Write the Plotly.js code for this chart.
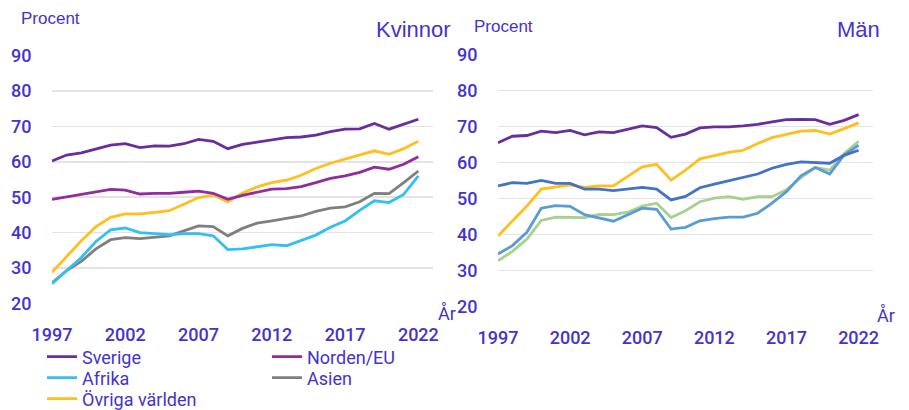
<!DOCTYPE html>
<html>
<head>
<meta charset="utf-8">
<script src="https://cdn.plot.ly/plotly-3.0.1.min.js"></script>
<style>html,body{margin:0;padding:0;background:#fff;}#chart{width:909px;height:410px;}</style>
</head>
<body>
<div id="chart"></div>
<script>
const years = [1997,1998,1999,2000,2001,2002,2003,2004,2005,2006,2007,2008,2009,2010,2011,2012,2013,2014,2015,2016,2017,2018,2019,2020,2021,2022];
const xTicks = [1997,2002,2007,2012,2017,2022];
const yTicks = [20,30,40,50,60,70,80,90];
const seriesNames = ['Sverige','Norden/EU','Afrika','Asien','Övriga världen'];

// Kvinnor
const kvSverige = [60.2,61.9,62.5,63.7,64.7,65.1,64.0,64.5,64.4,65.1,66.3,65.8,63.7,64.9,65.6,66.3,66.8,67.0,67.5,68.5,69.2,69.3,70.8,69.2,70.6,72.0];
const kvNorden  = [49.4,50.1,50.8,51.4,52.2,52.0,50.9,51.1,51.1,51.4,51.7,51.1,49.4,50.5,51.3,52.3,52.4,53.0,54.1,55.3,56.0,57.0,58.5,57.9,59.3,61.4];
const kvAfrika  = [25.6,29.3,33.0,37.5,40.8,41.3,40.0,39.7,39.4,39.7,39.7,39.1,35.2,35.4,36.1,36.6,36.3,37.7,39.3,41.5,43.3,46.3,49.0,48.5,50.8,56.0];
const kvAsien   = [25.8,29.3,31.9,35.4,38.0,38.6,38.3,38.6,39.1,40.5,41.9,41.7,39.1,41.2,42.7,43.3,44.0,44.7,46.0,46.9,47.3,48.7,51.1,51.0,54.1,57.4];
const kvOvriga  = [28.8,33.3,37.7,41.7,44.3,45.3,45.3,45.7,46.2,48.0,49.9,50.6,48.7,51.2,52.9,54.1,54.8,56.2,58.1,59.6,60.7,61.8,63.1,62.1,63.7,65.8];

// Män
const mSverige = [65.5,67.3,67.5,68.7,68.3,68.9,67.7,68.5,68.3,69.3,70.2,69.7,67.0,67.9,69.6,69.9,69.9,70.2,70.6,71.3,71.9,72.0,71.9,70.6,71.7,73.3];
const mNorden  = [53.5,54.4,54.2,55.0,54.2,54.2,52.6,52.6,52.2,52.7,53.1,52.6,49.6,50.6,53.0,54.0,54.9,55.8,56.8,58.4,59.5,60.2,60.1,59.8,62.0,63.4];
const mAfrika  = [34.6,36.9,40.6,47.3,48.0,47.8,45.5,44.5,43.7,45.5,47.3,47.0,41.5,42.0,43.8,44.4,44.8,44.8,45.9,48.7,51.9,56.3,58.6,56.8,62.1,64.8];
const mAsien   = [32.7,35.3,38.7,43.9,44.8,44.8,44.7,45.6,45.5,46.2,47.9,48.7,44.7,46.6,49.1,50.1,50.5,49.8,50.5,50.5,52.4,55.8,58.6,57.9,62.5,65.9];
const mOvriga  = [39.6,43.8,47.9,52.6,53.3,53.8,53.1,53.5,53.5,56.1,58.8,59.5,55.1,57.9,61.0,61.9,62.8,63.4,65.3,66.9,67.8,68.7,68.9,67.9,69.4,71.0];

const leftColors  = ['#6a2d9c','#912c9c','#35bff0','#7f7f7f','#ffbf1f'];
const rightColors = ['#6a2d9c','#4472c4','#5b9bd5','#a9d18e','#ffbf1f'];
const legendIds = ['legend','legend','legend2','legend2','legend3'];

const txt = '#4433cc';
const kvData = [kvSverige, kvNorden, kvAfrika, kvAsien, kvOvriga];
const mData  = [mSverige, mNorden, mAfrika, mAsien, mOvriga];
const drawOrder = [4,3,2,1,0];

const traces = [];
drawOrder.forEach(i => {
  traces.push({x: years, y: kvData[i], type:'scatter', mode:'lines', name: seriesNames[i],
    line:{color:leftColors[i], width:2.8}, xaxis:'x', yaxis:'y', legend: legendIds[i], showlegend:true, legendrank: i+1});
});
drawOrder.forEach(i => {
  traces.push({x: years, y: mData[i], type:'scatter', mode:'lines', name: seriesNames[i],
    line:{color:rightColors[i], width:2.8}, xaxis:'x2', yaxis:'y2', showlegend:false});
});

function px(x){return x/909;}
function py(y){return 1 - y/410;}

const tickFont = {family:'Roboto, Arial, sans-serif', size:18, color:txt, weight:500};
const xBase = {range:[1997,2023], tickvals:xTicks, ticktext:xTicks.map(String), showgrid:false, zeroline:false, showline:false,
  ticks:'outside', ticklen:14, tickcolor:'rgba(0,0,0,0)', tickfont:tickFont, fixedrange:true};
const yBase = {range:[19.85,90.15], tickvals:yTicks, showgrid:true, gridcolor:'#e3e3e3', gridwidth:1.5, zeroline:false, showline:false,
  ticks:'outside', ticklen:16, tickcolor:'rgba(0,0,0,0)', tickfont:tickFont, fixedrange:true};

const legBase = {orientation:'h', xanchor:'left', yanchor:'middle', entrywidth:180, entrywidthmode:'pixels',
  font:{family:'Roboto, Arial, sans-serif', size:18, color:txt}, bgcolor:'rgba(0,0,0,0)', borderwidth:0,
  traceorder:'normal', itemclick:false, itemdoubleclick:false, tracegroupgap:0};

const layout = {
  width:909, height:410,
  margin:{l:0,r:0,t:0,b:0, autoexpand:false},
  paper_bgcolor:'#ffffff', plot_bgcolor:'#ffffff',
  xaxis: Object.assign({}, xBase, {domain:[px(52), px(433)], anchor:'y'}),
  yaxis: Object.assign({}, yBase, {domain:[py(304), py(55)], anchor:'x'}),
  xaxis2: Object.assign({}, xBase, {domain:[px(498), px(873)], anchor:'y2'}),
  yaxis2: Object.assign({}, yBase, {domain:[py(307), py(54)], anchor:'x2'}),
  legend:  Object.assign({}, legBase, {x:px(42), y:py(357)}),
  legend2: Object.assign({}, legBase, {x:px(42), y:py(378)}),
  legend3: Object.assign({}, legBase, {x:px(42), y:py(399)}),
  annotations:[
    {text:'Procent', x:px(19), y:py(18), xref:'paper', yref:'paper', xanchor:'left', yanchor:'middle', showarrow:false,
      font:{family:'Liberation Sans, Arial, sans-serif', size:17, color:txt}},
    {text:'Kvinnor', x:px(453), y:py(30), xref:'paper', yref:'paper', xanchor:'right', yanchor:'middle', showarrow:false,
      font:{family:'Liberation Sans, Arial, sans-serif', size:22, color:txt}},
    {text:'Procent', x:px(472), y:py(26), xref:'paper', yref:'paper', xanchor:'left', yanchor:'middle', showarrow:false,
      font:{family:'Liberation Sans, Arial, sans-serif', size:17, color:txt}},
    {text:'Män', x:px(882), y:py(30), xref:'paper', yref:'paper', xanchor:'right', yanchor:'middle', showarrow:false,
      font:{family:'Liberation Sans, Arial, sans-serif', size:22, color:txt}},
    {text:'År', x:px(436), y:py(313), xref:'paper', yref:'paper', xanchor:'left', yanchor:'middle', showarrow:false,
      font:{family:'Roboto, Arial, sans-serif', size:18, color:txt}},
    {text:'År', x:px(875), y:py(315), xref:'paper', yref:'paper', xanchor:'left', yanchor:'middle', showarrow:false,
      font:{family:'Roboto, Arial, sans-serif', size:18, color:txt}}
  ],
  showlegend:true
};

Plotly.newPlot('chart', traces, layout, {displayModeBar:false, staticPlot:true});
</script>
</body>
</html>
